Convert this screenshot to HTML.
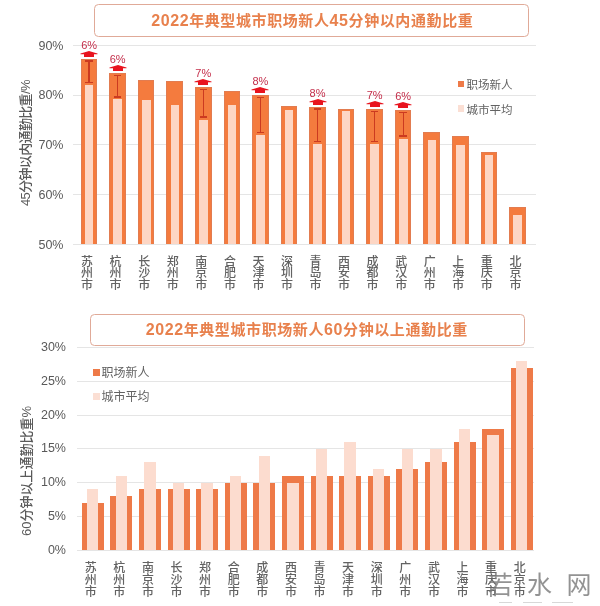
<!DOCTYPE html>
<html><head><meta charset="utf-8"><style>
*{margin:0;padding:0;box-sizing:border-box}
html,body{width:600px;height:606px;background:#fff;overflow:hidden}
body{position:relative;font-family:"Liberation Sans","Noto Sans CJK SC",sans-serif;color:#595959}
.a{position:absolute}
.g{position:absolute;height:1px;background:#E5E5E5}
.yl{position:absolute;font-size:12.5px;line-height:12px;text-align:right;width:40px}
.xl{position:absolute;font-family:"Noto Sans CJK SC",sans-serif;font-weight:500;font-size:12px;color:#636363;width:16px;text-align:center}
.tb{position:absolute;border:1.5px solid #E0AA98;border-radius:4.5px;background:#fff}
.tt{position:absolute;left:0;right:0;text-align:center;font-weight:bold;font-size:15px;letter-spacing:0.6px;color:#E8814D;font-family:"Liberation Sans","Noto Sans CJK SC",sans-serif;white-space:nowrap}
.d{font-size:16px}
.lg{position:absolute;font-family:"Noto Sans CJK SC",sans-serif;color:#626262;font-size:12px;line-height:12px;white-space:nowrap}
.sq{position:absolute;width:7px;height:7px}
.yt{position:absolute;font-family:"Liberation Sans","Noto Sans CJK SC",sans-serif;font-weight:500;font-size:13px;line-height:13px;white-space:nowrap;transform-origin:0 0;}
.pl{position:absolute;font-size:11px;line-height:11px;color:#C42E4A;width:30px;text-align:center}
</style></head><body>

<div class="g" style="left:73px;width:463px;top:45.2px"></div>
<div class="g" style="left:73px;width:463px;top:94.8px"></div>
<div class="g" style="left:73px;width:463px;top:144.4px"></div>
<div class="g" style="left:73px;width:463px;top:194.1px"></div>
<div class="g" style="left:73px;width:463px;top:243.6px"></div>
<div class="yl" style="left:23.5px;top:39.5px">90%</div>
<div class="yl" style="left:23.5px;top:89.1px">80%</div>
<div class="yl" style="left:23.5px;top:139.1px">70%</div>
<div class="yl" style="left:23.5px;top:189.2px">60%</div>
<div class="yl" style="left:23.5px;top:238.6px">50%</div>
<div class="yt" style="left:19.2px;top:206px;transform:rotate(-90deg);letter-spacing:-0.65px">45分钟以内通勤比重/%</div>
<div class="a" style="left:80.8px;top:58.6px;width:16.6px;height:185.4px;background:#F47B3E;border:1.2px solid #E27C50;border-bottom:0"></div>
<div class="a" style="left:84.9px;top:85.0px;width:8.6px;height:159.0px;background:#FDD6C4"></div>
<div class="a" style="left:88.4px;top:60.8px;width:1.3px;height:21.6px;background:#CC3A20"></div>
<div class="a" style="left:85.3px;top:60.4px;width:7.6px;height:1.4px;background:#CC3A20"></div>
<div class="a" style="left:85.3px;top:81.6px;width:7.6px;height:1.6px;background:#CC3A20"></div>
<svg class="a" style="left:80.1px;top:50.5px" width="18" height="8" viewBox="0 0 18 8"><path d="M0.5 2.5 L4 1.6 L9 0 L14 1.6 L17.5 2.5 L17.5 3.3 L14 3.3 L14 6 L4 6 L4 3.3 L0.5 3.3 Z" fill="#E8141F"/></svg>
<div class="pl" style="left:74.1px;top:40.0px">6%</div>
<div class="xl" style="left:79.1px;top:254.5px;line-height:11.8px">苏<br>州<br>市</div>
<div class="a" style="left:109.3px;top:73.0px;width:16.6px;height:171.0px;background:#F47B3E;border:1.2px solid #E27C50;border-bottom:0"></div>
<div class="a" style="left:113.4px;top:99.4px;width:8.6px;height:144.6px;background:#FDD6C4"></div>
<div class="a" style="left:117.0px;top:75.2px;width:1.3px;height:21.6px;background:#CC3A20"></div>
<div class="a" style="left:113.8px;top:74.8px;width:7.6px;height:1.4px;background:#CC3A20"></div>
<div class="a" style="left:113.8px;top:96.0px;width:7.6px;height:1.6px;background:#CC3A20"></div>
<svg class="a" style="left:108.6px;top:64.9px" width="18" height="8" viewBox="0 0 18 8"><path d="M0.5 2.5 L4 1.6 L9 0 L14 1.6 L17.5 2.5 L17.5 3.3 L14 3.3 L14 6 L4 6 L4 3.3 L0.5 3.3 Z" fill="#E8141F"/></svg>
<div class="pl" style="left:102.6px;top:54.4px">6%</div>
<div class="xl" style="left:107.6px;top:254.5px;line-height:11.8px">杭<br>州<br>市</div>
<div class="a" style="left:137.9px;top:80.0px;width:16.6px;height:164.0px;background:#F47B3E;border:1.2px solid #E27C50;border-bottom:0"></div>
<div class="a" style="left:142.0px;top:100.4px;width:8.6px;height:143.6px;background:#FDD6C4"></div>
<div class="xl" style="left:136.2px;top:254.5px;line-height:11.8px">长<br>沙<br>市</div>
<div class="a" style="left:166.4px;top:81.4px;width:16.6px;height:162.6px;background:#F47B3E;border:1.2px solid #E27C50;border-bottom:0"></div>
<div class="a" style="left:170.5px;top:105.0px;width:8.6px;height:139.0px;background:#FDD6C4"></div>
<div class="xl" style="left:164.8px;top:254.5px;line-height:11.8px">郑<br>州<br>市</div>
<div class="a" style="left:195.0px;top:87.0px;width:16.6px;height:157.0px;background:#F47B3E;border:1.2px solid #E27C50;border-bottom:0"></div>
<div class="a" style="left:199.1px;top:119.5px;width:8.6px;height:124.5px;background:#FDD6C4"></div>
<div class="a" style="left:202.7px;top:89.2px;width:1.3px;height:27.7px;background:#CC3A20"></div>
<div class="a" style="left:199.5px;top:88.8px;width:7.6px;height:1.4px;background:#CC3A20"></div>
<div class="a" style="left:199.5px;top:116.1px;width:7.6px;height:1.6px;background:#CC3A20"></div>
<svg class="a" style="left:194.3px;top:78.9px" width="18" height="8" viewBox="0 0 18 8"><path d="M0.5 2.5 L4 1.6 L9 0 L14 1.6 L17.5 2.5 L17.5 3.3 L14 3.3 L14 6 L4 6 L4 3.3 L0.5 3.3 Z" fill="#E8141F"/></svg>
<div class="pl" style="left:188.3px;top:68.4px">7%</div>
<div class="xl" style="left:193.3px;top:254.5px;line-height:11.8px">南<br>京<br>市</div>
<div class="a" style="left:223.6px;top:90.6px;width:16.6px;height:153.4px;background:#F47B3E;border:1.2px solid #E27C50;border-bottom:0"></div>
<div class="a" style="left:227.7px;top:104.6px;width:8.6px;height:139.4px;background:#FDD6C4"></div>
<div class="xl" style="left:221.9px;top:254.5px;line-height:11.8px">合<br>肥<br>市</div>
<div class="a" style="left:252.1px;top:95.0px;width:16.6px;height:149.0px;background:#F47B3E;border:1.2px solid #E27C50;border-bottom:0"></div>
<div class="a" style="left:256.2px;top:135.0px;width:8.6px;height:109.0px;background:#FDD6C4"></div>
<div class="a" style="left:259.8px;top:97.2px;width:1.3px;height:35.2px;background:#CC3A20"></div>
<div class="a" style="left:256.6px;top:96.8px;width:7.6px;height:1.4px;background:#CC3A20"></div>
<div class="a" style="left:256.6px;top:131.6px;width:7.6px;height:1.6px;background:#CC3A20"></div>
<svg class="a" style="left:251.4px;top:86.9px" width="18" height="8" viewBox="0 0 18 8"><path d="M0.5 2.5 L4 1.6 L9 0 L14 1.6 L17.5 2.5 L17.5 3.3 L14 3.3 L14 6 L4 6 L4 3.3 L0.5 3.3 Z" fill="#E8141F"/></svg>
<div class="pl" style="left:245.4px;top:76.4px">8%</div>
<div class="xl" style="left:250.4px;top:254.5px;line-height:11.8px">天<br>津<br>市</div>
<div class="a" style="left:280.6px;top:106.0px;width:16.6px;height:138.0px;background:#F47B3E;border:1.2px solid #E27C50;border-bottom:0"></div>
<div class="a" style="left:284.8px;top:110.0px;width:8.6px;height:134.0px;background:#FDD6C4"></div>
<div class="xl" style="left:278.9px;top:254.5px;line-height:11.8px">深<br>圳<br>市</div>
<div class="a" style="left:309.2px;top:106.6px;width:16.6px;height:137.4px;background:#F47B3E;border:1.2px solid #E27C50;border-bottom:0"></div>
<div class="a" style="left:313.3px;top:144.0px;width:8.6px;height:100.0px;background:#FDD6C4"></div>
<div class="a" style="left:316.9px;top:108.8px;width:1.3px;height:32.6px;background:#CC3A20"></div>
<div class="a" style="left:313.7px;top:108.4px;width:7.6px;height:1.4px;background:#CC3A20"></div>
<div class="a" style="left:313.7px;top:140.6px;width:7.6px;height:1.6px;background:#CC3A20"></div>
<svg class="a" style="left:308.5px;top:98.5px" width="18" height="8" viewBox="0 0 18 8"><path d="M0.5 2.5 L4 1.6 L9 0 L14 1.6 L17.5 2.5 L17.5 3.3 L14 3.3 L14 6 L4 6 L4 3.3 L0.5 3.3 Z" fill="#E8141F"/></svg>
<div class="pl" style="left:302.5px;top:88.0px">8%</div>
<div class="xl" style="left:307.5px;top:254.5px;line-height:11.8px">青<br>岛<br>市</div>
<div class="a" style="left:337.8px;top:108.6px;width:16.6px;height:135.4px;background:#F47B3E;border:1.2px solid #E27C50;border-bottom:0"></div>
<div class="a" style="left:341.9px;top:111.0px;width:8.6px;height:133.0px;background:#FDD6C4"></div>
<div class="xl" style="left:336.1px;top:254.5px;line-height:11.8px">西<br>安<br>市</div>
<div class="a" style="left:366.3px;top:109.0px;width:16.6px;height:135.0px;background:#F47B3E;border:1.2px solid #E27C50;border-bottom:0"></div>
<div class="a" style="left:370.4px;top:144.0px;width:8.6px;height:100.0px;background:#FDD6C4"></div>
<div class="a" style="left:374.0px;top:111.2px;width:1.3px;height:30.2px;background:#CC3A20"></div>
<div class="a" style="left:370.8px;top:110.8px;width:7.6px;height:1.4px;background:#CC3A20"></div>
<div class="a" style="left:370.8px;top:140.6px;width:7.6px;height:1.6px;background:#CC3A20"></div>
<svg class="a" style="left:365.6px;top:100.9px" width="18" height="8" viewBox="0 0 18 8"><path d="M0.5 2.5 L4 1.6 L9 0 L14 1.6 L17.5 2.5 L17.5 3.3 L14 3.3 L14 6 L4 6 L4 3.3 L0.5 3.3 Z" fill="#E8141F"/></svg>
<div class="pl" style="left:359.6px;top:90.4px">7%</div>
<div class="xl" style="left:364.6px;top:254.5px;line-height:11.8px">成<br>都<br>市</div>
<div class="a" style="left:394.9px;top:110.0px;width:16.6px;height:134.0px;background:#F47B3E;border:1.2px solid #E27C50;border-bottom:0"></div>
<div class="a" style="left:399.0px;top:138.6px;width:8.6px;height:105.4px;background:#FDD6C4"></div>
<div class="a" style="left:402.5px;top:112.2px;width:1.3px;height:23.8px;background:#CC3A20"></div>
<div class="a" style="left:399.4px;top:111.8px;width:7.6px;height:1.4px;background:#CC3A20"></div>
<div class="a" style="left:399.4px;top:135.2px;width:7.6px;height:1.6px;background:#CC3A20"></div>
<svg class="a" style="left:394.2px;top:101.9px" width="18" height="8" viewBox="0 0 18 8"><path d="M0.5 2.5 L4 1.6 L9 0 L14 1.6 L17.5 2.5 L17.5 3.3 L14 3.3 L14 6 L4 6 L4 3.3 L0.5 3.3 Z" fill="#E8141F"/></svg>
<div class="pl" style="left:388.2px;top:91.4px">6%</div>
<div class="xl" style="left:393.2px;top:254.5px;line-height:11.8px">武<br>汉<br>市</div>
<div class="a" style="left:423.4px;top:131.8px;width:16.6px;height:112.2px;background:#F47B3E;border:1.2px solid #E27C50;border-bottom:0"></div>
<div class="a" style="left:427.5px;top:140.2px;width:8.6px;height:103.8px;background:#FDD6C4"></div>
<div class="xl" style="left:421.7px;top:254.5px;line-height:11.8px">广<br>州<br>市</div>
<div class="a" style="left:452.0px;top:135.5px;width:16.6px;height:108.5px;background:#F47B3E;border:1.2px solid #E27C50;border-bottom:0"></div>
<div class="a" style="left:456.1px;top:144.7px;width:8.6px;height:99.3px;background:#FDD6C4"></div>
<div class="xl" style="left:450.3px;top:254.5px;line-height:11.8px">上<br>海<br>市</div>
<div class="a" style="left:480.5px;top:152.1px;width:16.6px;height:91.9px;background:#F47B3E;border:1.2px solid #E27C50;border-bottom:0"></div>
<div class="a" style="left:484.6px;top:155.3px;width:8.6px;height:88.7px;background:#FDD6C4"></div>
<div class="xl" style="left:478.8px;top:254.5px;line-height:11.8px">重<br>庆<br>市</div>
<div class="a" style="left:509.1px;top:207.0px;width:16.6px;height:37.0px;background:#F47B3E;border:1.2px solid #E27C50;border-bottom:0"></div>
<div class="a" style="left:513.1px;top:215.2px;width:8.6px;height:28.8px;background:#FDD6C4"></div>
<div class="xl" style="left:507.4px;top:254.5px;line-height:11.8px">北<br>京<br>市</div>
<div class="sq" style="left:457.5px;top:80.8px;width:6.7px;height:6.7px;background:#EE7A48"></div>
<div class="lg" style="left:466.5px;top:78px;font-size:11.5px">职场新人</div>
<div class="sq" style="left:457.5px;top:105px;width:6.7px;height:6.7px;background:#FBDFD4"></div>
<div class="lg" style="left:466.5px;top:102.5px;font-size:11.5px">城市平均</div>
<div class="tb" style="left:94px;top:4.3px;width:434.5px;height:32.7px"><div class="tt" style="top:5.5px;line-height:20px;padding-left:2px"><span class="d">2022</span>年典型城市职场新人<span class="d">45</span>分钟以内通勤比重</div></div>
<div class="g" style="left:77px;width:457px;top:549.7px"></div>
<div class="g" style="left:77px;width:457px;top:515.9px"></div>
<div class="g" style="left:77px;width:457px;top:482.2px"></div>
<div class="g" style="left:77px;width:457px;top:448.4px"></div>
<div class="g" style="left:77px;width:457px;top:414.6px"></div>
<div class="g" style="left:77px;width:457px;top:380.8px"></div>
<div class="g" style="left:77px;width:457px;top:347.1px"></div>
<div class="yl" style="left:26px;top:543.7px">0%</div>
<div class="yl" style="left:26px;top:509.9px">5%</div>
<div class="yl" style="left:26px;top:476.2px">10%</div>
<div class="yl" style="left:26px;top:442.4px">15%</div>
<div class="yl" style="left:26px;top:408.6px">20%</div>
<div class="yl" style="left:26px;top:374.8px">25%</div>
<div class="yl" style="left:26px;top:341.1px">30%</div>
<div class="yt" style="left:19.6px;top:536px;transform:rotate(-90deg);letter-spacing:0px">60分钟以上通勤比重%</div>
<div class="a" style="left:81.7px;top:502.9px;width:22.0px;height:47.3px;background:#EE7A48"></div>
<div class="a" style="left:87.0px;top:489.4px;width:11.4px;height:60.8px;background:#FCDCCF"></div>
<div class="xl" style="left:82.7px;top:561.2px;line-height:12px">苏<br>州<br>市</div>
<div class="a" style="left:110.3px;top:496.2px;width:22.0px;height:54.0px;background:#EE7A48"></div>
<div class="a" style="left:115.6px;top:475.9px;width:11.4px;height:74.3px;background:#FCDCCF"></div>
<div class="xl" style="left:111.3px;top:561.2px;line-height:12px">杭<br>州<br>市</div>
<div class="a" style="left:138.9px;top:489.4px;width:22.0px;height:60.8px;background:#EE7A48"></div>
<div class="a" style="left:144.2px;top:462.4px;width:11.4px;height:87.8px;background:#FCDCCF"></div>
<div class="xl" style="left:139.9px;top:561.2px;line-height:12px">南<br>京<br>市</div>
<div class="a" style="left:167.5px;top:489.4px;width:22.0px;height:60.8px;background:#EE7A48"></div>
<div class="a" style="left:172.8px;top:482.7px;width:11.4px;height:67.6px;background:#FCDCCF"></div>
<div class="xl" style="left:168.5px;top:561.2px;line-height:12px">长<br>沙<br>市</div>
<div class="a" style="left:196.1px;top:489.4px;width:22.0px;height:60.8px;background:#EE7A48"></div>
<div class="a" style="left:201.4px;top:482.7px;width:11.4px;height:67.6px;background:#FCDCCF"></div>
<div class="xl" style="left:197.1px;top:561.2px;line-height:12px">郑<br>州<br>市</div>
<div class="a" style="left:224.7px;top:482.7px;width:22.0px;height:67.6px;background:#EE7A48"></div>
<div class="a" style="left:230.0px;top:475.9px;width:11.4px;height:74.3px;background:#FCDCCF"></div>
<div class="xl" style="left:225.7px;top:561.2px;line-height:12px">合<br>肥<br>市</div>
<div class="a" style="left:253.3px;top:482.7px;width:22.0px;height:67.6px;background:#EE7A48"></div>
<div class="a" style="left:258.6px;top:455.6px;width:11.4px;height:94.6px;background:#FCDCCF"></div>
<div class="xl" style="left:254.3px;top:561.2px;line-height:12px">成<br>都<br>市</div>
<div class="a" style="left:281.9px;top:475.9px;width:22.0px;height:74.3px;background:#EE7A48"></div>
<div class="a" style="left:287.2px;top:482.7px;width:11.4px;height:67.6px;background:#FCDCCF"></div>
<div class="xl" style="left:282.9px;top:561.2px;line-height:12px">西<br>安<br>市</div>
<div class="a" style="left:310.5px;top:475.9px;width:22.0px;height:74.3px;background:#EE7A48"></div>
<div class="a" style="left:315.8px;top:448.9px;width:11.4px;height:101.3px;background:#FCDCCF"></div>
<div class="xl" style="left:311.5px;top:561.2px;line-height:12px">青<br>岛<br>市</div>
<div class="a" style="left:339.1px;top:475.9px;width:22.0px;height:74.3px;background:#EE7A48"></div>
<div class="a" style="left:344.4px;top:442.1px;width:11.4px;height:108.1px;background:#FCDCCF"></div>
<div class="xl" style="left:340.1px;top:561.2px;line-height:12px">天<br>津<br>市</div>
<div class="a" style="left:367.7px;top:475.9px;width:22.0px;height:74.3px;background:#EE7A48"></div>
<div class="a" style="left:373.0px;top:469.1px;width:11.4px;height:81.1px;background:#FCDCCF"></div>
<div class="xl" style="left:368.7px;top:561.2px;line-height:12px">深<br>圳<br>市</div>
<div class="a" style="left:396.3px;top:469.1px;width:22.0px;height:81.1px;background:#EE7A48"></div>
<div class="a" style="left:401.6px;top:448.9px;width:11.4px;height:101.3px;background:#FCDCCF"></div>
<div class="xl" style="left:397.3px;top:561.2px;line-height:12px">广<br>州<br>市</div>
<div class="a" style="left:424.9px;top:462.4px;width:22.0px;height:87.8px;background:#EE7A48"></div>
<div class="a" style="left:430.2px;top:448.9px;width:11.4px;height:101.3px;background:#FCDCCF"></div>
<div class="xl" style="left:425.9px;top:561.2px;line-height:12px">武<br>汉<br>市</div>
<div class="a" style="left:453.5px;top:442.1px;width:22.0px;height:108.1px;background:#EE7A48"></div>
<div class="a" style="left:458.8px;top:428.6px;width:11.4px;height:121.6px;background:#FCDCCF"></div>
<div class="xl" style="left:454.5px;top:561.2px;line-height:12px">上<br>海<br>市</div>
<div class="a" style="left:482.1px;top:428.6px;width:22.0px;height:121.6px;background:#EE7A48"></div>
<div class="a" style="left:487.4px;top:435.4px;width:11.4px;height:114.8px;background:#FCDCCF"></div>
<div class="xl" style="left:483.1px;top:561.2px;line-height:12px">重<br>庆<br>市</div>
<div class="a" style="left:510.7px;top:367.8px;width:22.0px;height:182.4px;background:#EE7A48"></div>
<div class="a" style="left:516.0px;top:361.1px;width:11.4px;height:189.1px;background:#FCDCCF"></div>
<div class="xl" style="left:511.7px;top:561.2px;line-height:12px">北<br>京<br>市</div>
<div class="sq" style="left:93px;top:369px;background:#EE7A48"></div>
<div class="lg" style="left:101.5px;top:366px">职场新人</div>
<div class="sq" style="left:93px;top:392.5px;background:#FBDFD4"></div>
<div class="lg" style="left:101.5px;top:389.5px">城市平均</div>
<div class="tb" style="left:90px;top:313.5px;width:435px;height:32.5px"><div class="tt" style="top:5.5px;line-height:20px;padding-right:1.5px"><span class="d">2022</span>年典型城市职场新人<span class="d">60</span>分钟以上通勤比重</div></div>
<div class="a" style="left:487.8px;top:566.2px;font-family:'Noto Sans CJK SC',sans-serif;font-weight:400;font-size:25px;line-height:34px;letter-spacing:14.3px;color:rgba(120,120,120,0.8);white-space:nowrap">若水网</div>
<div class="a" style="left:499.0px;top:601.5px;width:13.0px;height:1.2px;background:#d8d8d8"></div>
<div class="a" style="left:523.0px;top:601.5px;width:18.5px;height:1.2px;background:#d8d8d8"></div>
<div class="a" style="left:552.0px;top:601.5px;width:21.0px;height:1.2px;background:#d8d8d8"></div>
</body></html>
